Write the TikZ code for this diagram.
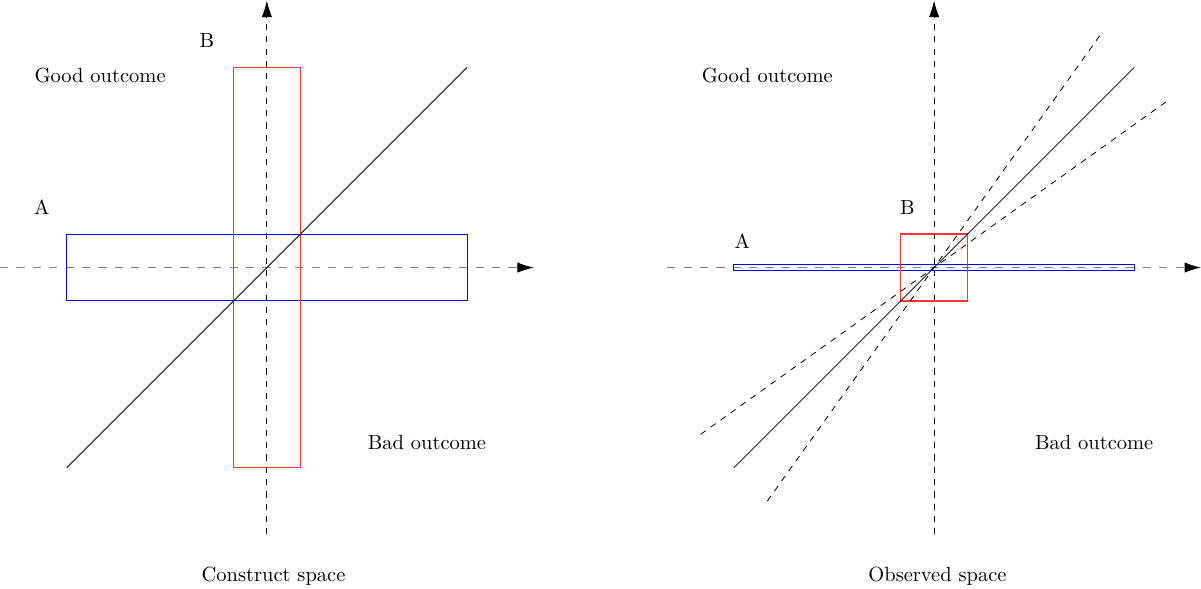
\documentclass[tikz,border=0pt]{standalone}
\usetikzlibrary{arrows.meta}
\begin{document}
\begin{tikzpicture}[x=0.572cm,y=0.572cm,
  haxis/.style={draw=black!50,line width=0.8pt,dash pattern=on 4pt off 4pt,-{Latex[length=8pt,width=5pt,black,fill=black,line width=0.4pt]}},
  vaxis/.style={black,line width=0.4pt,dashed,-{Latex[length=8pt,width=5pt]}},
  boxA/.style={draw=blue,line width=0.5pt},
  boxB/.style={draw=red!80!white,line width=0.7pt},
  lbl/.style={inner sep=0pt,font=\normalsize}]
\useasboundingbox (-8,-9.63) rectangle (28,8.02);
% ---------- left panel ----------
\begin{scope}
\coordinate (hl) at (-8,0); \coordinate (hr) at (8,0);
\coordinate (vb) at (0,-8); \coordinate (vt) at (0,8);
\draw[haxis] (hl) -- (hr);
\draw[vaxis] (vb) -- (vt);
\coordinate (A1sw) at (-6,-1); \coordinate (A1ne) at (6,1);
\draw[boxA] (A1sw) rectangle (A1ne);
\coordinate (B1sw) at (-1,-6); \coordinate (B1ne) at (1,6);
\draw[boxB] (B1sw) rectangle (B1ne);
\coordinate (d1) at (-6,-6); \coordinate (d2) at (6,6);
\draw (d1) -- (d2);
\node[lbl] (good1) at (-5,5.75) {Good outcome};
\node[lbl] (a1) at (-6.75,1.8) {A};
\node[lbl] (b1) at (-1.8,6.8) {B};
\node[lbl] (bad1) at (4.8,-5.25) {Bad outcome};
\node[lbl] (cs) at (0.2,-9.25) {Construct space};
\end{scope}
% ---------- right panel ----------
\begin{scope}[xshift=20*0.572cm]
\coordinate (rhl) at (-8,0); \coordinate (rhr) at (8,0);
\coordinate (rvb) at (0,-8); \coordinate (rvt) at (0,8);
\draw[haxis] (rhl) -- (rhr);
\draw[vaxis] (rvb) -- (rvt);
\coordinate (A2sw) at (-6,-0.1); \coordinate (A2ne) at (6,0.1);
\draw[boxA] (A2sw) rectangle (A2ne);
\coordinate (B2sw) at (-1,-1); \coordinate (B2ne) at (1,1);
\draw[boxB] (B2sw) rectangle (B2ne);
\coordinate (e1) at (-6,-6); \coordinate (e2) at (6,6);
\draw (e1) -- (e2);
\coordinate (s1) at (-5,-7); \coordinate (s2) at (5,7);
\draw[dashed] (s1) -- (s2);
\coordinate (f1) at (-7,-5); \coordinate (f2) at (7,5);
\draw[dashed] (f1) -- (f2);
\node[lbl] (good2) at (-5,5.75) {Good outcome};
\node[lbl] (a2) at (-5.75,0.8) {A};
\node[lbl] (b2) at (-0.8,1.8) {B};
\node[lbl] (bad2) at (4.8,-5.25) {Bad outcome};
\node[lbl] (os) at (0.1,-9.25) {Observed space};
\end{scope}
\end{tikzpicture}
\end{document}
